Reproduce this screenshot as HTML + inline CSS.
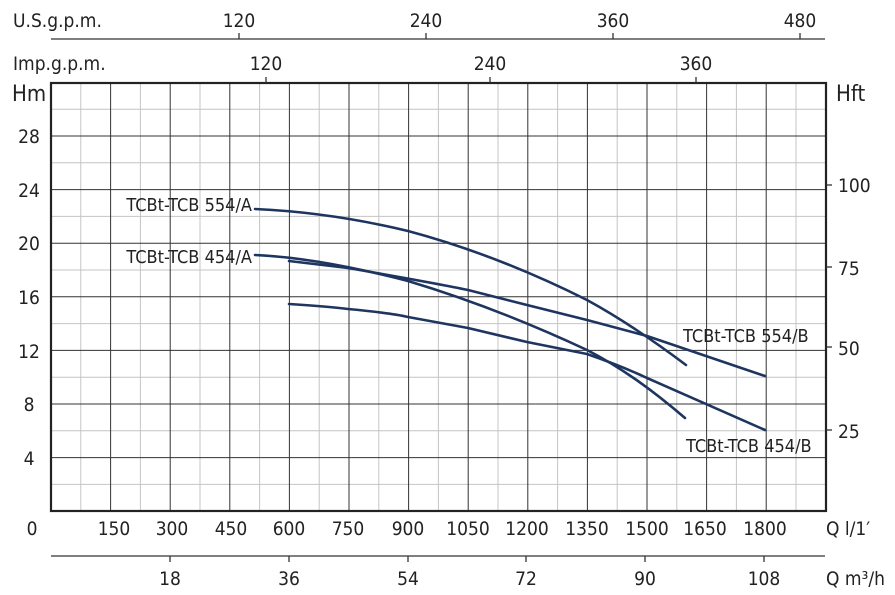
<!DOCTYPE html>
<html><head><meta charset="utf-8"><style>
html,body{margin:0;padding:0;background:#fff;}
svg text{font-family:"DejaVu Sans Condensed","Liberation Sans",sans-serif;fill:#222;}
</style></head><body>
<svg width="895" height="590" viewBox="0 0 895 590" xmlns="http://www.w3.org/2000/svg">
<g id="grid" stroke-width="1">
<g stroke="#c4c4c4">
<line x1="80.8" y1="83" x2="80.8" y2="511"/><line x1="140.4" y1="83" x2="140.4" y2="511"/>
<line x1="200" y1="83" x2="200" y2="511"/><line x1="259.6" y1="83" x2="259.6" y2="511"/>
<line x1="319.2" y1="83" x2="319.2" y2="511"/><line x1="378.8" y1="83" x2="378.8" y2="511"/>
<line x1="438.4" y1="83" x2="438.4" y2="511"/><line x1="498" y1="83" x2="498" y2="511"/>
<line x1="557.6" y1="83" x2="557.6" y2="511"/><line x1="617.2" y1="83" x2="617.2" y2="511"/>
<line x1="676.8" y1="83" x2="676.8" y2="511"/><line x1="736.4" y1="83" x2="736.4" y2="511"/>
<line x1="796" y1="83" x2="796" y2="511"/>
<line x1="51" y1="109.2" x2="826" y2="109.2"/><line x1="51" y1="162.8" x2="826" y2="162.8"/>
<line x1="51" y1="216.4" x2="826" y2="216.4"/><line x1="51" y1="270" x2="826" y2="270"/>
<line x1="51" y1="323.6" x2="826" y2="323.6"/><line x1="51" y1="377.2" x2="826" y2="377.2"/>
<line x1="51" y1="430.8" x2="826" y2="430.8"/><line x1="51" y1="484.4" x2="826" y2="484.4"/>
</g>
<g stroke="#333">
<line x1="110.6" y1="83" x2="110.6" y2="511"/><line x1="170.2" y1="83" x2="170.2" y2="511"/>
<line x1="229.8" y1="83" x2="229.8" y2="511"/><line x1="289.4" y1="83" x2="289.4" y2="511"/>
<line x1="349" y1="83" x2="349" y2="511"/><line x1="408.6" y1="83" x2="408.6" y2="511"/>
<line x1="468.2" y1="83" x2="468.2" y2="511"/><line x1="527.8" y1="83" x2="527.8" y2="511"/>
<line x1="587.4" y1="83" x2="587.4" y2="511"/><line x1="647" y1="83" x2="647" y2="511"/>
<line x1="706.6" y1="83" x2="706.6" y2="511"/><line x1="766.2" y1="83" x2="766.2" y2="511"/>
<line x1="51" y1="136" x2="826" y2="136"/><line x1="51" y1="189.6" x2="826" y2="189.6"/>
<line x1="51" y1="243.2" x2="826" y2="243.2"/><line x1="51" y1="296.8" x2="826" y2="296.8"/>
<line x1="51" y1="350.4" x2="826" y2="350.4"/><line x1="51" y1="404" x2="826" y2="404"/>
<line x1="51" y1="457.6" x2="826" y2="457.6"/>
</g>
<rect x="51" y="83" width="775" height="428" fill="none" stroke="#222" stroke-width="2.2"/>
</g>
<g stroke="#333" stroke-width="1.3">
<line x1="51" y1="39" x2="825" y2="39"/>
<line x1="239" y1="33" x2="239" y2="39"/><line x1="426" y1="33" x2="426" y2="39"/>
<line x1="613" y1="33" x2="613" y2="39"/><line x1="800" y1="33" x2="800" y2="39"/>
<line x1="266" y1="77" x2="266" y2="83"/><line x1="490" y1="77" x2="490" y2="83"/><line x1="696" y1="77" x2="696" y2="83"/>
<line x1="51" y1="556" x2="825" y2="556"/>
<line x1="170" y1="556" x2="170" y2="562"/><line x1="289" y1="556" x2="289" y2="562"/>
<line x1="408" y1="556" x2="408" y2="562"/><line x1="526" y1="556" x2="526" y2="562"/>
<line x1="645" y1="556" x2="645" y2="562"/><line x1="764" y1="556" x2="764" y2="562"/>
<line x1="826" y1="185" x2="832" y2="185"/><line x1="826" y1="267" x2="832" y2="267"/>
<line x1="826" y1="347" x2="832" y2="347"/><line x1="826" y1="430" x2="832" y2="430"/>
</g>
<g font-size="19">
<text x="13" y="27">U.S.g.p.m.</text>
<text x="239" y="27" text-anchor="middle">120</text><text x="426" y="27" text-anchor="middle">240</text>
<text x="613" y="27" text-anchor="middle">360</text><text x="800" y="27" text-anchor="middle">480</text>
<text x="13" y="70">Imp.g.p.m.</text>
<text x="266" y="70" text-anchor="middle">120</text><text x="490" y="70" text-anchor="middle">240</text><text x="696" y="70" text-anchor="middle">360</text>
<text x="12" y="101" font-size="22">Hm</text>
<text x="836" y="101" font-size="22">Hft</text>
<g text-anchor="middle">
<text x="29" y="143">28</text><text x="29" y="197">24</text><text x="29" y="250">20</text>
<text x="29" y="304">16</text><text x="29" y="358">12</text><text x="29" y="411">8</text><text x="29" y="465">4</text>
<text x="32" y="535">0</text>
<text x="114" y="535">150</text><text x="172" y="535">300</text><text x="231" y="535">450</text>
<text x="289" y="535">600</text><text x="348" y="535">750</text><text x="408" y="535">900</text>
<text x="468" y="535">1050</text><text x="527" y="535">1200</text><text x="587" y="535">1350</text>
<text x="647" y="535">1500</text><text x="705" y="535">1650</text><text x="765" y="535">1800</text>
<text x="170" y="585">18</text><text x="289" y="585">36</text><text x="408" y="585">54</text>
<text x="526" y="585">72</text><text x="645" y="585">90</text><text x="764" y="585">108</text>
</g>
<text x="826" y="535">Q  l/1′</text>
<text x="826" y="585">Q  m³/h</text>
<text x="838" y="192">100</text><text x="838" y="275">75</text><text x="838" y="355">50</text><text x="838" y="438">25</text>
<text x="252" y="211" text-anchor="end" font-size="18">TCBt-TCB 554/A</text>
<text x="252" y="263" text-anchor="end" font-size="18">TCBt-TCB 454/A</text>
<text x="683" y="342" font-size="18">TCBt-TCB 554/B</text>
<text x="686" y="452" font-size="18">TCBt-TCB 454/B</text>
</g>
<g fill="none" stroke="#1e3560" stroke-width="2.6" stroke-linecap="round" stroke-linejoin="round">
<path d="M255,209 C300,211 350,217 408,231 C468,247 527,270 587,300 C620,318 650,338 686,365"/>
<path d="M255,255 C300,257 350,266 408,281 C468,299 527,322 587,350 C620,367 650,388 685,418"/>
<path d="M289,261 L348,268 C400,277 440,284 468,290 L527,305 L587,320 L647,336 L765,376"/>
<path d="M289,304 C320,306 340,308 348,309 C380,312 400,315 408,317 L468,328 L527,342 L587,354 C610,362 630,370 647,378 L765,430"/>
</g>
</svg>
</body></html>
